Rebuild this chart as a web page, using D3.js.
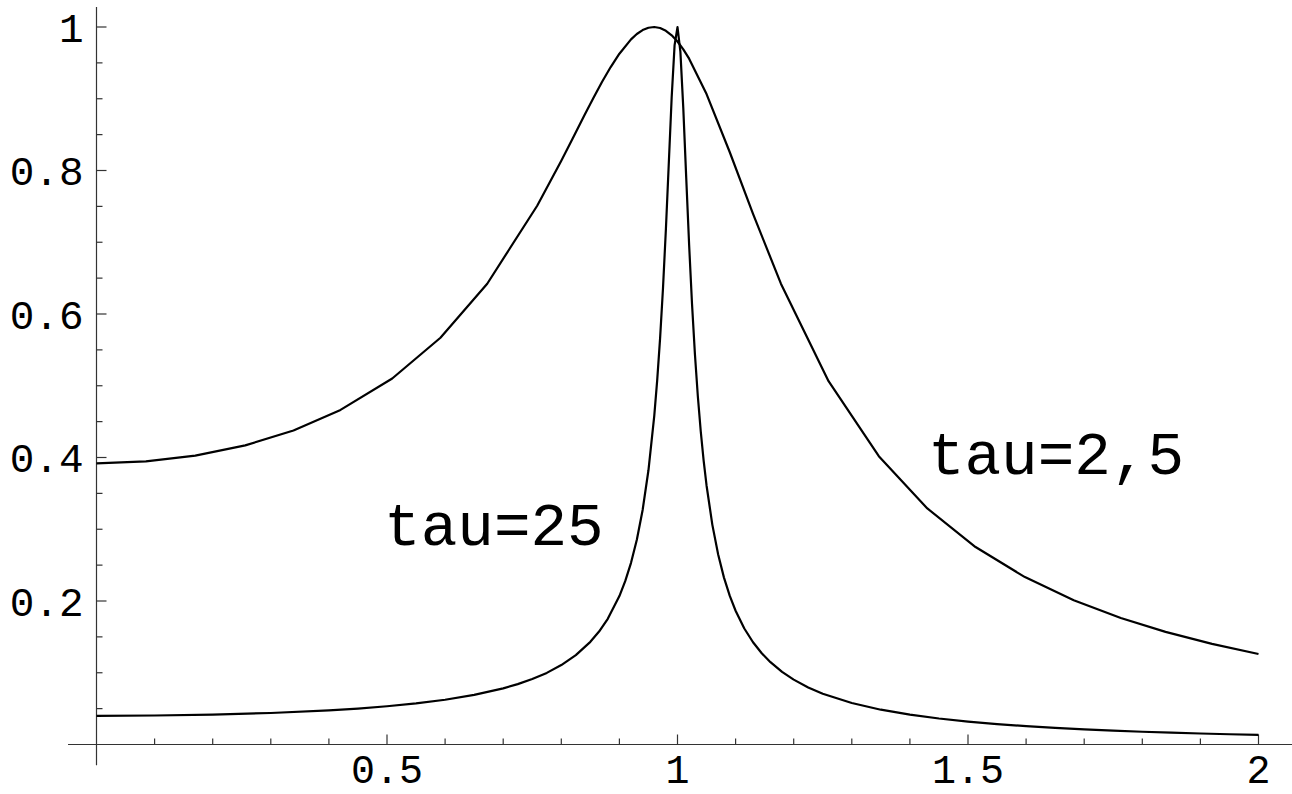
<!DOCTYPE html>
<html>
<head>
<meta charset="utf-8">
<script src="https://cdn.jsdelivr.net/npm/d3@7"></script>
<style>
    html, body { margin: 0; padding: 0; background: #fff; }
    svg { display: block; }
</style>
</head>
<body>
<div id="chart"></div>
<script>
// tau = 2,5 curve (x, y)
var slowX = [0, 0.085, 0.17, 0.256, 0.339, 0.42, 0.509, 0.592, 0.6725, 0.7585,
    0.80, 0.82, 0.84, 0.855, 0.87, 0.885, 0.90, 0.92, 0.93, 0.94, 0.95, 0.96, 0.97, 0.98, 0.99,
    1.00, 1.01, 1.02, 1.05, 1.09, 1.13,
    1.178, 1.26, 1.3465, 1.43, 1.513, 1.598, 1.682, 1.763, 1.84, 1.92, 2.0];
var slowY = [0.3919, 0.3945, 0.4026, 0.4169, 0.4377, 0.4663, 0.5101, 0.5669, 0.6422, 0.7509,
    0.8137, 0.8454, 0.8773, 0.9008, 0.9233, 0.9442, 0.9628, 0.9828, 0.9903, 0.9957, 0.9990, 1.0, 0.9986, 0.9947, 0.9884,
    0.9798, 0.9689, 0.9559, 0.9065, 0.8254, 0.7394,
    0.6423, 0.5063, 0.4019, 0.3290, 0.2752, 0.2333, 0.2011, 0.1763, 0.1570, 0.1403, 0.1262];

// tau = 25 curve
var sharpX = [0, 0.1, 0.2, 0.3, 0.4, 0.45, 0.5, 0.55, 0.6, 0.65, 0.7, 0.725, 0.75, 0.775, 0.8,
    0.825, 0.85, 0.865, 0.88, 0.9, 0.91, 0.92, 0.93, 0.94, 0.95, 0.96, 0.965,
    0.97, 0.975, 0.98, 0.985, 0.99, 0.995, 1.0, 1.005, 1.01, 1.015, 1.02, 1.025, 1.03, 1.035,
    1.04, 1.045, 1.05, 1.06, 1.07, 1.08, 1.09, 1.1, 1.115, 1.13, 1.145, 1.16, 1.18, 1.2,
    1.225, 1.25, 1.3, 1.35, 1.4, 1.45, 1.5, 1.55, 1.6, 1.65, 1.7, 1.75, 1.8, 1.85, 1.9, 1.95, 2.0];
var sharpY = [0.0400, 0.0404, 0.0417, 0.0439, 0.0476, 0.0501, 0.0533, 0.0573, 0.0624, 0.0692, 0.0783, 0.0842, 0.0912, 0.0998, 0.1107,
    0.1246, 0.1431, 0.1574, 0.1752, 0.2068, 0.2276, 0.2532, 0.2854, 0.3269, 0.3822, 0.4581, 0.5071,
    0.5657, 0.6356, 0.7177, 0.8098, 0.9024, 0.9747, 0.9998, 0.9653, 0.8863, 0.7901, 0.6965, 0.6139, 0.5439, 0.4854,
    0.4366, 0.3957, 0.3610, 0.3061, 0.2647, 0.2326, 0.2071, 0.1864, 0.1617, 0.1425, 0.1272, 0.1147, 0.1012, 0.0904,
    0.0795, 0.0708, 0.0578, 0.0485, 0.0416, 0.0362, 0.0320, 0.0285, 0.0256, 0.0232, 0.0212, 0.0194, 0.0178, 0.0165, 0.0153, 0.0143, 0.0133];

var xMajor = [0.5, 1, 1.5, 2];
var xMinor = d3.range(1, 21).map(function (i) { return i / 10; });
var yMajor = [0.2, 0.4, 0.6, 0.8, 1];
var yMinor = d3.range(1, 21).map(function (i) { return i / 20; });

var labels = [
    { text: "tau=25", x: 0.495, y: 0.278 },
    { text: "tau=2,5", x: 1.431, y: 0.377 }
];

var width = 1292, height = 794;

var x = d3.scaleLinear().domain([0, 2]).range([96.5, 1258.5]);
var y = d3.scaleLinear().domain([0, 1]).range([744.5, 27]);

var svg = d3.select("#chart")
    .append("svg")
    .attr("width", width)
    .attr("height", height);

var axes = svg.append("g")
    .attr("stroke", "#333")
    .attr("stroke-width", 1.2);

// axis lines run a little past the data range
axes.append("line")
    .attr("x1", x(-0.049)).attr("x2", x(2.06))
    .attr("y1", y(0)).attr("y2", y(0));
axes.append("line")
    .attr("x1", x(0)).attr("x2", x(0))
    .attr("y1", y(1.028)).attr("y2", y(-0.029));

axes.selectAll(".xtick")
    .data(xMinor)
    .enter()
    .append("line")
    .attr("class", "xtick")
    .attr("x1", function (d) { return x(d); })
    .attr("x2", function (d) { return x(d); })
    .attr("y1", y(0))
    .attr("y2", function (d) { return y(0) - (xMajor.indexOf(d) >= 0 ? 10 : 6); });

axes.selectAll(".ytick")
    .data(yMinor)
    .enter()
    .append("line")
    .attr("class", "ytick")
    .attr("y1", function (d) { return y(d); })
    .attr("y2", function (d) { return y(d); })
    .attr("x1", x(0))
    .attr("x2", function (d) { return x(0) + (yMajor.indexOf(d) >= 0 ? 10 : 6); });

var tickFont = "'Liberation Mono', 'Courier New', monospace";

svg.selectAll(".xlabel")
    .data(xMajor)
    .enter()
    .append("text")
    .attr("class", "xlabel")
    .attr("x", function (d) { return x(d); })
    .attr("y", y(0) + 38)
    .attr("text-anchor", "middle")
    .style("font-family", tickFont)
    .style("font-size", "40px")
    .text(function (d) { return String(d); });

svg.selectAll(".ylabel")
    .data(yMajor)
    .enter()
    .append("text")
    .attr("class", "ylabel")
    .attr("x", x(0) - 13)
    .attr("y", function (d) { return y(d); })
    .attr("dy", "0.36em")
    .attr("text-anchor", "end")
    .style("font-family", tickFont)
    .style("font-size", "41px")
    .text(function (d) { return String(d); });

var line = d3.line()
    .x(function (d) { return x(d[0]); })
    .y(function (d) { return y(d[1]); });

var curves = [d3.zip(slowX, slowY), d3.zip(sharpX, sharpY)];

svg.selectAll(".curve")
    .data(curves)
    .enter()
    .append("path")
    .attr("class", "curve")
    .attr("d", line)
    .attr("fill", "none")
    .attr("stroke", "#000")
    .attr("stroke-width", 2.2)
    .attr("stroke-linejoin", "round");

svg.selectAll(".tag")
    .data(labels)
    .enter()
    .append("text")
    .attr("class", "tag")
    .attr("x", function (d) { return x(d.x); })
    .attr("y", function (d) { return y(d.y); })
    .style("font-family", tickFont)
    .style("font-size", "61px")
    .text(function (d) { return d.text; });
</script>
</body>
</html>
